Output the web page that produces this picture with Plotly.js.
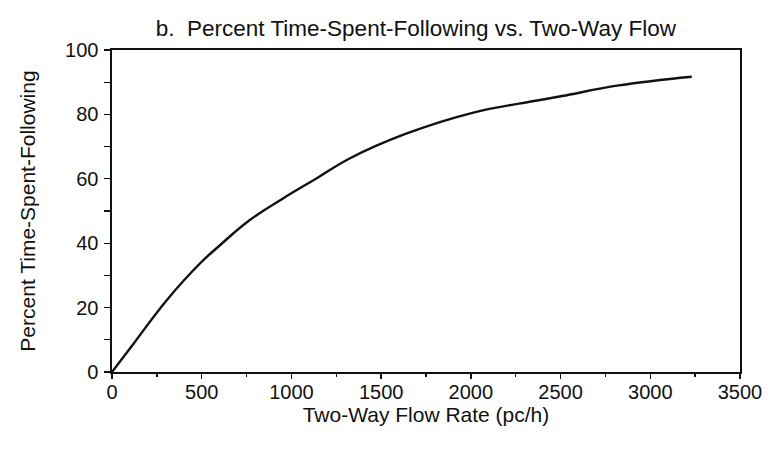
<!DOCTYPE html>
<html>
<head>
<meta charset="utf-8">
<script src="https://cdn.plot.ly/plotly-3.0.1.min.js"></script>
<style>html,body{margin:0;padding:0;background:#fff;}#chart{width:773px;height:450px;}</style>
</head>
<body>
<div id="chart"></div>
<script>
// Data
const flowRate = [0, 120, 305, 490, 592, 768, 953, 1139, 1324, 1639, 2009, 2370, 2509, 2824, 3231];
const percentTSF = [0, 8.8, 22.3, 33.7, 38.9, 47.2, 53.9, 60.1, 66.3, 74.0, 80.5, 84.3, 85.7, 89.0, 91.7];
const xTicks = [0, 500, 1000, 1500, 2000, 2500, 3000, 3500];
const yTicks = [0, 20, 40, 60, 80, 100];
const titleText = "b.&nbsp;&nbsp;Percent Time-Spent-Following vs. Two-Way Flow";
const xTitle = "Two-Way Flow Rate (pc/h)";
const yTitle = "Percent Time-Spent-Following";

const FONT = "'Liberation Sans', Arial, sans-serif";

const trace = {
  x: flowRate,
  y: percentTSF,
  type: 'scatter',
  mode: 'lines',
  line: {color: '#111', width: 2.4, shape: 'spline', smoothing: 1.2},
  hoverinfo: 'x+y'
};

const layout = {
  width: 773,
  height: 450,
  margin: {l: 112, r: 33, t: 50, b: 78},
  paper_bgcolor: '#fff',
  plot_bgcolor: '#fff',
  showlegend: false,
  font: {family: FONT, color: '#111', size: 20},
  title: {text: titleText, x: 0.538, xanchor: 'center', y: 0.955, yanchor: 'top', font: {family: FONT, size: 22.5, color: '#111'}},
  xaxis: {
    range: [0, 3500],
    tickvals: xTicks,
    ticktext: xTicks.map(String),
    ticks: 'outside', ticklen: 5, tickwidth: 1.3, tickcolor: '#111',
    ticklabelstandoff: -4,
    showline: true, linecolor: '#111', linewidth: 1.6, mirror: true,
    showgrid: false, zeroline: false,
    tickfont: {family: FONT, size: 20, color: '#111'},
    title: {text: xTitle, standoff: 4, font: {family: FONT, size: 21, color: '#111'}},
    minor: {dtick: 250, ticks: 'outside', ticklen: 3, tickcolor: '#111', showgrid: false}
  },
  yaxis: {
    range: [0, 100],
    tickvals: yTicks,
    ticktext: yTicks.map(String),
    ticks: 'outside', ticklen: 6, tickwidth: 1.3, tickcolor: '#111',
    ticklabelstandoff: 2,
    showline: true, linecolor: '#111', linewidth: 1.6, mirror: true,
    showgrid: false, zeroline: false,
    tickfont: {family: FONT, size: 20, color: '#111'},
    title: {text: yTitle, standoff: 23, font: {family: FONT, size: 21, color: '#111'}},
    minor: {dtick: 10, ticks: 'outside', ticklen: 6, tickcolor: '#111', showgrid: false}
  }
};

Plotly.newPlot('chart', [trace], layout, {displayModeBar: false, staticPlot: true});
</script>
</body>
</html>
